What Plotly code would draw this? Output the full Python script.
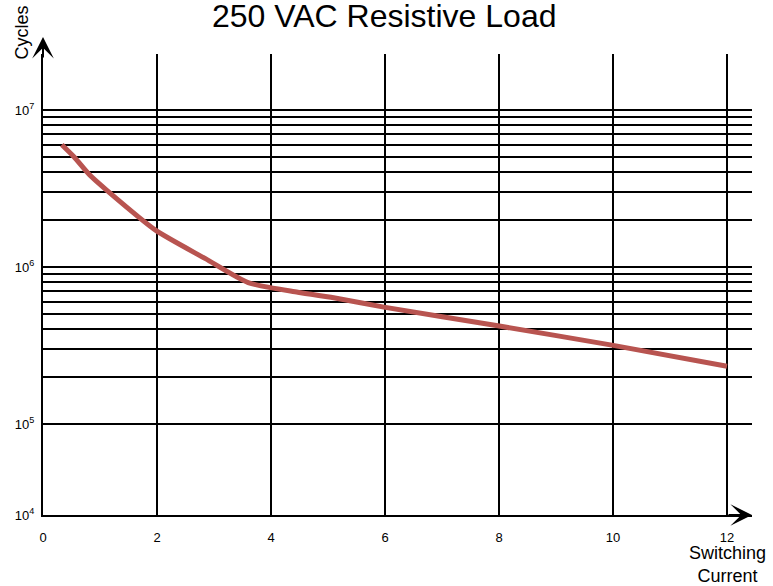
import plotly.graph_objects as go

# Data
current = [0.33, 0.55, 0.82, 1.11, 1.98, 2.85, 3.6, 4.47, 5.17, 5.98, 7.98, 9.98, 12.0]
cycles = [6.0e6, 5.0e6, 3.85e6, 3.1e6, 1.71e6, 1.13e6, 7.95e5, 6.9e5, 6.3e5, 5.55e5, 4.22e5, 3.18e5, 2.33e5]

x_ticks = [0, 2, 4, 6, 8, 10, 12]
x_labels = ["0", "2", "4", "6", "8", "10", "12"]

upper_grid = [m * 10 ** e for e in (5, 6) for m in range(1, 10)] + [1e7]
upper_labels = ["10<sup>5</sup>" if v == 1e5 else "10<sup>6</sup>" if v == 1e6 else
                "10<sup>7</sup>" if v == 1e7 else " " for v in upper_grid]
lower_grid = [1e4, 1e5]
lower_labels = ["10<sup>4</sup>", " "]

W, H = 773, 586
L, R, T, B = 43, 21, 54, 71
plot_w = W - L - R
plot_h = H - T - B
split = (515 - 424) / plot_h


def py(ref_y):
    return (515 - ref_y) / plot_h


def px(ref_x):
    return (ref_x - 43) / plot_w


fig = go.Figure()
fig.add_trace(go.Scatter(
    x=current, y=cycles, xaxis="x", yaxis="y2", mode="lines",
    line=dict(color="#b85450", width=5, shape="spline", smoothing=0.6),
    hoverinfo="skip", showlegend=False))
# empty trace so the lower subplot exists
fig.add_trace(go.Scatter(x=[None], y=[None], xaxis="x", yaxis="y", showlegend=False))

axis_common = dict(showgrid=True, gridcolor="black", gridwidth=2,
                   showline=True, linecolor="black", linewidth=2,
                   zeroline=False, ticks="", automargin=False,
                   tickfont=dict(size=13, color="black"))

fig.update_layout(
    width=W, height=H,
    margin=dict(l=L, r=R, t=T, b=B, pad=0, autoexpand=False),
    paper_bgcolor="white", plot_bgcolor="white",
    font=dict(family="Liberation Sans, Arial, sans-serif", color="black", size=12),
    xaxis=dict(range=[0, plot_w / 57], tickvals=x_ticks, ticktext=x_labels,
               ticklabelstandoff=9, anchor="y", **axis_common),
    yaxis=dict(type="log", range=[4, 5], domain=[0, split],
               tickvals=lower_grid, ticktext=lower_labels,
               ticklabelstandoff=4, anchor="x", **axis_common),
    yaxis2=dict(type="log", range=[5, 5 + 370 / 157], domain=[split, 1],
                tickvals=upper_grid, ticktext=upper_labels,
                ticklabelstandoff=4, anchor="x", **axis_common),
    shapes=[
        dict(type="line", xref="paper", yref="paper", x0=0, x1=1,
             y0=split, y1=split, line=dict(color="black", width=2), layer="below"),
    ],
    annotations=[
        dict(text="250 VAC Resistive Load", xref="paper", yref="paper",
             x=px(384), y=py(16), showarrow=False,
             font=dict(size=32, color="black"), xanchor="center", yanchor="middle"),
        dict(text="", xref="paper", yref="paper", x=0, y=py(37),
             ax=0, ay=22, showarrow=True, arrowhead=3, arrowsize=1.8,
             arrowwidth=2, arrowcolor="black", standoff=0),
        dict(text="", xref="paper", yref="paper", x=1, y=0,
             ax=-25, ay=0, showarrow=True, arrowhead=3, arrowsize=1.8,
             arrowwidth=2, arrowcolor="black", standoff=0),
        dict(text="Cycles", xref="paper", yref="paper",
             x=px(21.5), y=py(33), textangle=-90,
             showarrow=False, font=dict(size=18, color="black"),
             xanchor="center", yanchor="middle"),
        dict(text="Switching<br>Current", xref="x", yref="paper",
             x=12, y=py(564), showarrow=False,
             font=dict(size=18, color="black"),
             xanchor="center", yanchor="middle"),
    ],
)

fig.write_html("out.html", config={"displayModeBar": False},
               post_script="document.body.style.margin='0px';")
